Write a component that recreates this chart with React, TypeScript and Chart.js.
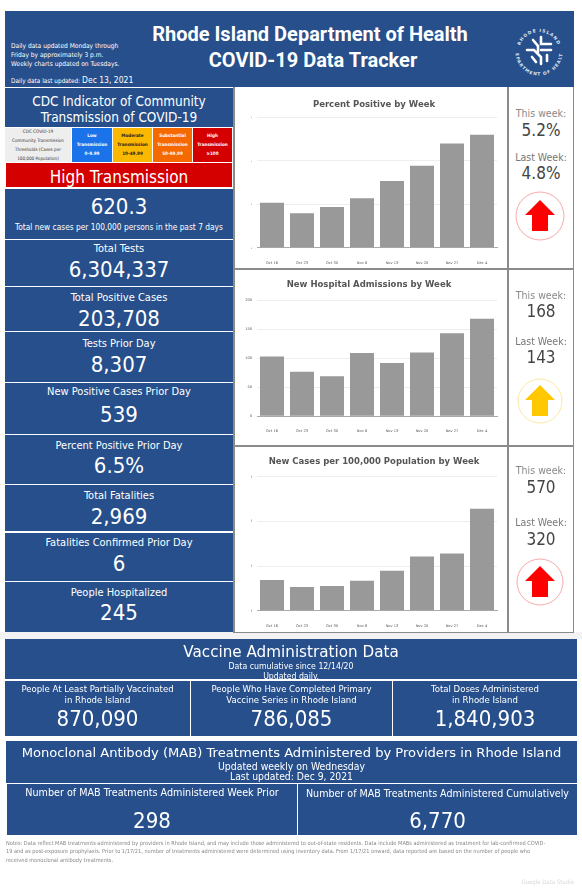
import React, { useEffect, useRef } from "react";
import { Chart, registerables } from "chart.js";

Chart.register(...registerables);

const weeks = ["Oct 16", "Oct 23", "Oct 30", "Nov 6", "Nov 13", "Nov 20", "Nov 27", "Dec 4"];
const percentPositive = [2.07, 1.58, 1.87, 2.27, 3.07, 3.77, 4.8, 5.2];
const hospitalAdmissions = [103, 77, 69, 109, 92, 110, 143, 168];
const casesPer100k = [172, 132, 138, 168, 224, 304, 320, 570];

const BLUE = "#264f8b";
const TAHOMA = '"DejaVu Sans Condensed", "DejaVu Sans", sans-serif';
const DEJAVU = '"DejaVu Sans", sans-serif';

function Txt({ x = 0, w = 582, y, size, color = "#fff", bold = false, font = TAHOMA, align = "center", children }: any) {
  return (
    <div
      style={{
        position: "absolute", left: x, width: w, top: y - 15, height: 30, lineHeight: "30px",
        fontSize: size, color, fontWeight: bold ? 700 : 400, fontFamily: font, textAlign: align, whiteSpace: "nowrap",
      }}
    >
      {children}
    </div>
  );
}

function Box({ x, y, w, h, bg = BLUE, style }: any) {
  return <div style={{ position: "absolute", left: x, top: y, width: w, height: h, background: bg, ...style }} />;
}

function BarChart({ title, values, max, step, fmt, titleX, top, bottom, titleY, gridTop, base }: any) {
  const ref = useRef<HTMLCanvasElement>(null);
  const left = 234;
  const right = 507;
  const padLeft = 2 * titleX - 497 - left;
  useEffect(() => {
    const chart = new Chart(ref.current!, {
      type: "bar",
      data: {
        labels: weeks,
        datasets: [{ data: values, backgroundColor: "#999999", barPercentage: 0.8, categoryPercentage: 1 }],
      },
      options: {
        animation: false,
        responsive: false,
        layout: { padding: { left: padLeft, right: right - 497 } },
        plugins: {
          legend: { display: false },
          tooltip: { enabled: false },
          title: {
            display: true,
            text: title,
            color: "#555555",
            font: { family: DEJAVU, size: 8.5, weight: "bold", lineHeight: 1.2 },
            padding: { top: titleY - top - 5.1, bottom: gridTop - titleY - 5.1 },
          },
        },
        scales: {
          x: {
            grid: { display: false },
            border: { color: "#aaaaaa", width: 1 },
            ticks: { color: "#555555", font: { size: 3.6, family: DEJAVU }, padding: 5, maxRotation: 0, autoSkip: false },
            afterFit: (s: any) => { s.height = bottom - base; },
          },
          y: {
            min: 0,
            max,
            grid: { color: "#eeeeee", drawTicks: false },
            border: { display: false },
            ticks: { stepSize: step, color: "#555555", font: { size: 3.6, family: DEJAVU }, padding: 5, callback: fmt },
            afterFit: (s: any) => { s.width = 257 - left - padLeft; },
          },
        },
      },
    } as any);
    return () => chart.destroy();
  }, []);
  return (
    <canvas
      ref={ref}
      width={right - left}
      height={bottom - top}
      style={{ position: "absolute", left, top, width: right - left, height: bottom - top }}
    />
  );
}

function Arrow({ cy, r, color, ring }: any) {
  const cx = 540;
  const t = cy - 16;
  return (
    <svg style={{ position: "absolute", left: 0, top: 0 }} width={582} height={894}>
      <circle cx={cx} cy={cy} r={r} fill="#fff" stroke={ring} strokeWidth={1} />
      <polygon
        points={`${cx},${t} ${cx + 15},${t + 15} ${cx + 8},${t + 15} ${cx + 8},${t + 31} ${cx - 8},${t + 31} ${cx - 8},${t + 15} ${cx - 15},${t + 15}`}
        fill={color}
      />
    </svg>
  );
}

function Logo() {
  return (
    <svg style={{ position: "absolute", left: 0, top: 0 }} width={582} height={894}>
      <defs>
        <path id="logoTop" d="M 519 52 A 20 20 0 0 1 559 52" />
        <path id="logoBottom" d="M 515.5 52 A 23.5 23.5 0 0 0 562.5 52" />
      </defs>
      <text fontSize={4.4} fontWeight={700} fill="#dfe6f0" fontFamily={DEJAVU} textAnchor="middle" letterSpacing={1}>
        <textPath href="#logoTop" startOffset="50%">RHODE ISLAND</textPath>
      </text>
      <text fontSize={4.4} fontWeight={700} fill="#dfe6f0" fontFamily={DEJAVU} textAnchor="middle" letterSpacing={0.9}>
        <textPath href="#logoBottom" startOffset="50%">DEPARTMENT OF HEALTH</textPath>
      </text>
      <g stroke="#fff" strokeWidth={2.6} fill="none" strokeLinecap="round">
        <path d="M 533 40 L 538 46 L 538 52" />
        <path d="M 541 37 L 541 44 L 551 44" />
        <path d="M 527 50 L 534 50 L 541 57 L 541 64" />
        <path d="M 541 50 L 551 50" />
        <path d="M 532 57 L 536 62" />
        <path d="M 547 55 L 547 61" />
      </g>
    </svg>
  );
}

const stats = [
  ["Total Tests", "6,304,337", 249, 270],
  ["Total Positive Cases", "203,708", 298, 319],
  ["Tests Prior Day", "8,307", 344, 365],
  ["New Positive Cases Prior Day", "539", 392, 415],
  ["Percent Positive Prior Day", "6.5%", 446, 466],
  ["Total Fatalities", "2,969", 496, 517],
  ["Fatalities Confirmed Prior Day", "6", 543, 564],
  ["People Hospitalized", "245", 593, 613],
];
const statBoxes = [[189, 239], [240, 286], [287, 331], [332, 382], [383, 434], [435, 484], [485, 531], [533, 581], [582, 632]];

const thresholds = [
  { x: 72, w: 40, bg: "#1a73e8", color: "#fff", lines: ["Low", "Transmission", "0-9.99"] },
  { x: 113, w: 39, bg: "#fbb800", color: "#222", lines: ["Moderate", "Transmission", "10-49.99"] },
  { x: 153, w: 39, bg: "#f56a00", color: "#fff", lines: ["Substantial", "Transmission", "50-99.99"] },
  { x: 193, w: 39, bg: "#d40000", color: "#fff", lines: ["High", "Transmission", "\u2265100"] },
];
const thresholdIntro = ["CDC COVID-19", "Community Transmission", "Thresholds (Cases per", "100,000 Population)"];

export default function App() {
  return (
    <div style={{ position: "absolute", left: 0, top: 0, width: 582, height: 894, background: "#fff", overflow: "hidden" }}>
      {/* header */}
      <Box x={5} y={11} w={569} h={76} />
      <Txt x={11} w={200} y={46} size={6.6} align="left">Daily data updated Monday through</Txt>
      <Txt x={11} w={200} y={55} size={6.6} align="left">Friday by approximately 3 p.m.</Txt>
      <Txt x={11} w={200} y={64} size={6.6} align="left">Weekly charts updated on Tuesdays.</Txt>
      <Txt x={11} w={200} y={80} size={6.4} align="left">
        Daily data last updated: <span style={{ fontSize: 8.5 }}>Dec 13, 2021</span>
      </Txt>
      <Txt x={0} w={620} y={34} size={20} bold font="Roboto">Rhode Island Department of Health</Txt>
      <Txt x={0} w={626} y={60} size={20} bold font="Roboto">COVID-19 Data Tracker</Txt>
      <Logo />

      {/* left column */}
      <Box x={5} y={88} w={228} h={39} />
      <Txt x={5} w={228} y={101} size={13.5}>CDC Indicator of Community</Txt>
      <Txt x={5} w={228} y={117} size={13.5}>Transmission of COVID-19</Txt>
      <Box x={5} y={128} w={66} h={34} bg="#eeeeee" />
      {thresholdIntro.map((l, i) => (
        <Txt key={l} x={5} w={66} y={132 + i * 9} size={4.6} color="#333">{l}</Txt>
      ))}
      {thresholds.map((c) => (
        <React.Fragment key={c.x}>
          <Box x={c.x} y={128} w={c.w} h={34} bg={c.bg} />
          {c.lines.map((l, i) => (
            <Txt key={l} x={c.x} w={c.w} y={136 + i * 9} size={4.6} bold color={c.color}>{l}</Txt>
          ))}
        </React.Fragment>
      ))}
      <Box x={6} y={163} w={226} h={24} bg="#d40000" />
      <Txt x={5} w={228} y={176.5} size={17}>High Transmission</Txt>
      {statBoxes.map(([a, b]) => <Box key={a} x={5} y={a} w={228} h={b - a} />)}
      <Txt x={5} w={228} y={207} size={22}>620.3</Txt>
      <Txt x={5} w={228} y={227} size={8.3}>Total new cases per 100,000 persons in the past 7 days</Txt>
      {stats.map(([label, value, ly, vy]: any) => (
        <React.Fragment key={label}>
          <Txt x={5} w={228} y={ly} size={11}>{label}</Txt>
          <Txt x={5} w={228} y={vy} size={22}>{value}</Txt>
        </React.Fragment>
      ))}
      <Box x={0} y={632} w={582} h={7} bg="#f3f3f3" />

      {/* chart panels */}
      <BarChart
        title="Percent Positive by Week" values={percentPositive} max={6} step={2}
        fmt={(v: number) => v + "%"} titleX={374} top={88} bottom={268}
        titleY={105} gridTop={117.3} base={247.7}
      />
      <BarChart
        title="New Hospital Admissions by Week" values={hospitalAdmissions} max={200} step={50}
        fmt={(v: number) => String(v)} titleX={369} top={270} bottom={445}
        titleY={285} gridTop={300.3} base={416.3}
      />
      <BarChart
        title="New Cases per 100,000 Population by Week" values={casesPer100k} max={750} step={250}
        fmt={(v: number) => String(v)} titleX={374} top={447} bottom={632}
        titleY={462} gridTop={476.7} base={610.7}
      />
      {/* panel frames */}
      <Box x={233} y={87} w={2} h={546} bg="#8a8a8a" />
      <Box x={507} y={87} w={2} h={546} bg="#8a8a8a" />
      <Box x={573} y={87} w={1} h={546} bg="#8a8a8a" />
      <Box x={233} y={268} w={341} h={2} bg="#8a8a8a" />
      <Box x={233} y={445} w={341} h={2} bg="#8a8a8a" />
      <Box x={233} y={632} w={341} h={1} bg="#8a8a8a" />

      {/* side numbers */}
      <Txt x={509} w={64} y={113} size={10.5} color="#888">This week:</Txt>
      <Txt x={509} w={64} y={130} size={17} color="#444">5.2%</Txt>
      <Txt x={509} w={64} y={157} size={10.5} color="#777">Last Week:</Txt>
      <Txt x={509} w={64} y={173} size={17} color="#444">4.8%</Txt>
      <Arrow cy={216} r={24} color="#ff0000" ring="#f8a8a8" />
      <Txt x={509} w={64} y={295} size={10.5} color="#888">This week:</Txt>
      <Txt x={509} w={64} y={311} size={17} color="#444">168</Txt>
      <Txt x={509} w={64} y={341} size={10.5} color="#777">Last Week:</Txt>
      <Txt x={509} w={64} y={357} size={17} color="#444">143</Txt>
      <Arrow cy={401} r={22} color="#ffc800" ring="#fbe8a0" />
      <Txt x={509} w={64} y={470} size={10.5} color="#888">This week:</Txt>
      <Txt x={509} w={64} y={487} size={17} color="#444">570</Txt>
      <Txt x={509} w={64} y={522} size={10.5} color="#777">Last Week:</Txt>
      <Txt x={509} w={64} y={539} size={17} color="#444">320</Txt>
      <Arrow cy={582} r={23} color="#ff0000" ring="#f8a8a8" />

      {/* vaccine */}
      <Box x={5} y={639} w={572} h={40} />
      <Txt x={5} w={572} y={652} size={15.2} font={DEJAVU}>Vaccine Administration Data</Txt>
      <Txt x={5} w={572} y={666} size={8.7}>Data cumulative since 12/14/20</Txt>
      <Txt x={5} w={572} y={676} size={8.7}>Updated daily.</Txt>
      <Box x={5} y={681} w={185} h={55} />
      <Box x={191} y={681} w={201} h={55} />
      <Box x={393} y={681} w={184} h={55} />
      <Txt x={5} w={185} y={689} size={9.5}>People At Least Partially Vaccinated</Txt>
      <Txt x={5} w={185} y={700} size={9.5}>in Rhode Island</Txt>
      <Txt x={5} w={185} y={719} size={22}>870,090</Txt>
      <Txt x={191} w={201} y={689} size={9.5}>People Who Have Completed Primary</Txt>
      <Txt x={191} w={201} y={700} size={9.5}>Vaccine Series in Rhode Island</Txt>
      <Txt x={191} w={201} y={719} size={22}>786,085</Txt>
      <Txt x={393} w={184} y={689} size={9.5}>Total Doses Administered</Txt>
      <Txt x={393} w={184} y={700} size={9.5}>in Rhode Island</Txt>
      <Txt x={393} w={184} y={719} size={22}>1,840,903</Txt>

      {/* MAB */}
      <Box x={6} y={741} w={571} h={42} />
      <Txt x={6} w={571} y={753} size={13.1} font={DEJAVU}>Monoclonal Antibody (MAB) Treatments Administered by Providers in Rhode Island</Txt>
      <Txt x={6} w={571} y={766} size={10.4}>Updated weekly on Wednesday</Txt>
      <Txt x={6} w={571} y={776} size={10.3}>Last updated: Dec 9, 2021</Txt>
      <Box x={7} y={784} w={290} h={51} />
      <Box x={298} y={784} w={279} h={51} />
      <Txt x={7} w={290} y={793} size={10.7}>Number of MAB Treatments Administered Week Prior</Txt>
      <Txt x={298} w={279} y={793} size={10.6}>Number of MAB Treatments Administered Cumulatively</Txt>
      <Txt x={7} w={290} y={821} size={22}>298</Txt>
      <Txt x={298} w={279} y={821} size={22}>6,770</Txt>

      {/* notes */}
      <Txt x={6} w={570} y={842.5} size={5.6} color="#888" align="left">Notes: Data reflect MAB treatments administered by providers in Rhode Island, and may include those administered to out-of-state residents. Data include MABs administered as treatment for lab-confirmed COVID-</Txt>
      <Txt x={6} w={570} y={851} size={5.6} color="#888" align="left">19 and as post-exposure prophylaxis. Prior to 1/17/21, number of treatments administered were determined using inventory data. From 1/17/21 onward, data reported are based on the number of people who</Txt>
      <Txt x={6} w={570} y={859.5} size={5.6} color="#888" align="left">received monoclonal antibody treatments.</Txt>
      <Txt x={500} w={74} y={882} size={6} color="#d8d8d8" align="right">Google Data Studio</Txt>
    </div>
  );
}
